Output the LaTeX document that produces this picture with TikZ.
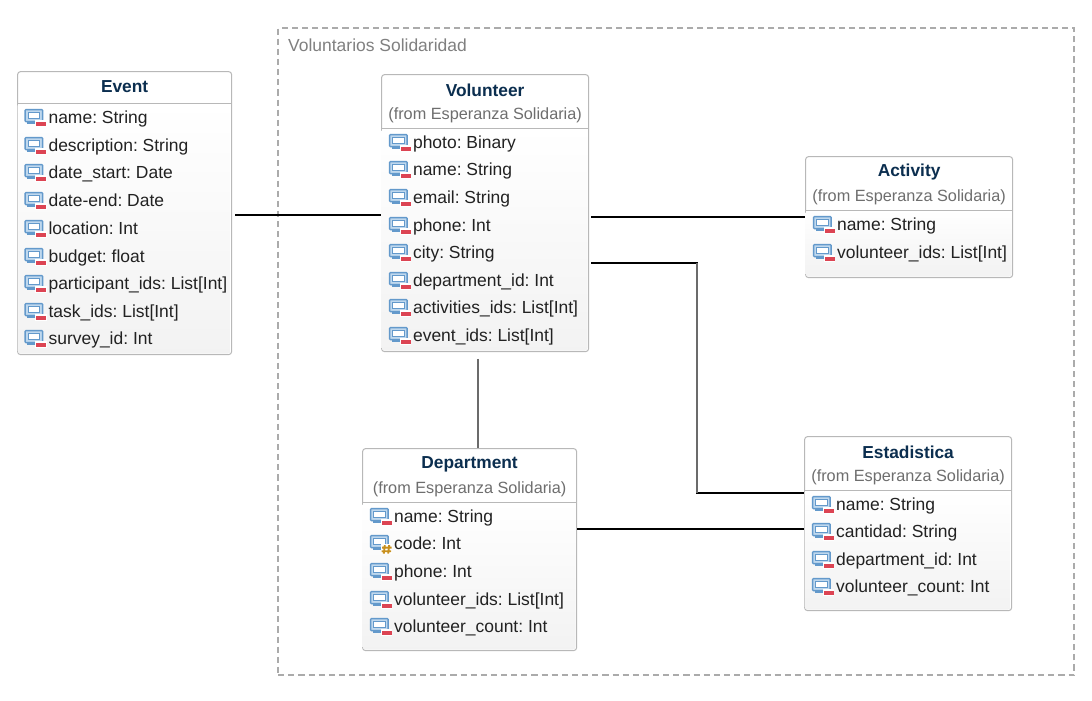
\documentclass[tikz,border=0pt]{standalone}
\usepackage{fontspec}
\setmainfont{Liberation Sans}
\frenchspacing
\definecolor{titlecol}{HTML}{0B2E4F}
\definecolor{subcol}{HTML}{6E6E6E}
\definecolor{txtcol}{HTML}{222222}
\definecolor{boxline}{HTML}{B8B8B8}
\definecolor{icoblue}{HTML}{6399CB}
\definecolor{icolight}{HTML}{BFD8EE}
\definecolor{icored}{HTML}{DC4453}
\definecolor{icogold}{HTML}{C8901E}
\newcounter{attrno}
\tikzset{
  x=0.75pt, y=-0.75pt,
  umlbox/.style={draw=boxline, line width=0.75pt, rounded corners=2.2pt, fill=white, inner sep=0pt, anchor=north west},
  divider/.style={draw=boxline, line width=0.75pt},
  classtitle/.style={font=\fontsize{13pt}{15pt}\selectfont\bfseries, text=titlecol, inner sep=0pt, anchor=center},
  classfrom/.style={font=\fontsize{12.2pt}{14pt}\selectfont, text=subcol, inner sep=0pt, anchor=center},
  attrtext/.style={font=\fontsize{13.1pt}{15pt}\selectfont, text=txtcol, inner sep=0pt, anchor=base west},
  conn/.style={draw=black, line width=1.2pt},
  connv/.style={draw=black!58, line width=1.8pt},
  frame/.style={draw=black!33, line width=1.5pt, dash pattern=on 4.6pt off 3pt},
  framelabel/.style={font=\fontsize{13.1pt}{15pt}\selectfont, text=black!50, inner sep=0pt, anchor=base west},
}
% class box: name, x0, y0, w, h, divider y offset
\newcommand{\classbox}[6]{%
  \node[umlbox, minimum width=#4*0.75pt, minimum height=#5*0.75pt] (#1) at (#2,#3) {};
  \shade[top color=white, bottom color=black!5, rounded corners=2pt]
     (#2+0.6,#3+#6) rectangle (#2+#4-0.6,#3+#5-0.6);
  \draw[divider] (#2,#3+#6) -- (#2+#4,#3+#6);
}
% icon at left x, centre y; #3 = 0 private, 1 protected
\newcommand{\attricon}[3]{%
  \begin{scope}[shift={(#1+0.5,#2)}]
    \fill[icolight] (0,-7) rectangle (17.5,5);
    \draw[icoblue, line width=1pt, rounded corners=0.6pt] (0,-7) rectangle (17.5,5);
    \fill[white] (3,-4.2) rectangle (14.5,1.5);
    \draw[icoblue, line width=0.7pt] (3,-4.2) rectangle (14.5,1.5);
    \draw[icoblue, line width=1pt] (2,6.5) -- (15,6.5);
    \ifnum#3=0
      \fill[white] (10,3.6) rectangle (21.5,10.4);
      \fill[icored] (11,5.2) rectangle (21,9.4);
    \else
      \fill[white] (10,1.5) rectangle (21.5,11.5);
      \draw[icogold, line width=1.4pt] (14.2,2.5) -- (13.2,11) (18.6,2.5) -- (17.6,11) (11.5,5) -- (21,5) (11,8.6) -- (20.5,8.6);
    \fi
  \end{scope}}
% attribute: icon x, centre y, text, icon kind
\newcommand{\attr}[4]{%
  \stepcounter{attrno}%
  \attricon{#1}{#2}{#4}
  \node[attrtext] (attr\theattrno) at (#1+23.7,#2+6.7) {#3};
}
\begin{document}
\begin{tikzpicture}
\useasboundingbox (0.4,0.4) rectangle (1092.4,700.4);
\fill[white] (0.4,0.4) rectangle (1092.4,700.4);
% frame
\node[frame, minimum width=796*0.75pt, minimum height=647*0.75pt, inner sep=0pt, anchor=north west] (container) at (277.5,27.5) {};
\node[framelabel] (containerlabel) at (288.3,52.2) {Voluntarios Solidaridad};

% Event
\classbox{event}{17.5}{71.5}{214}{283}{32}
\node[classtitle] (eventtitle) at (125,87.4) {Event};
\foreach \y/\t in {117/name: String,145/description: String,172/date\_start: Date,200/date-end: Date,228/location: Int,256/budget: float,283/participant\_ids: List[Int],311/task\_ids: List[Int],338/survey\_id: Int}{\attr{25}{\y}{\t}{0}}

% Volunteer
\classbox{volunteer}{381.5}{74.5}{207}{277}{54}
\node[classtitle] (voltitle) at (485.5,90.9) {Volunteer};
\node[classfrom] (volfrom) at (485.5,116) {(from Esperanza Solidaria)};
\foreach \y/\t in {142/photo: Binary,169/name: String,197/email: String,225/phone: Int,252/city: String,280/department\_id: Int,307/activities\_ids: List[Int],335/event\_ids: List[Int]}{\attr{389.5}{\y}{\t}{0}}

% Activity
\classbox{activity}{805.5}{156.5}{207}{121}{54}
\node[classtitle] (acttitle) at (909.5,172.9) {Activity};
\node[classfrom] (actfrom) at (909.5,198) {(from Esperanza Solidaria)};
\foreach \y/\t in {224/name: String,252/volunteer\_ids: List[Int]}{\attr{813.5}{\y}{\t}{0}}

% Department
\classbox{department}{362.5}{448.5}{214}{202}{54}
\node[classtitle] (deptitle) at (470,464.9) {Department};
\node[classfrom] (depfrom) at (470,490) {(from Esperanza Solidaria)};
\attr{370.5}{516}{name: String}{0}
\attr{370.5}{543}{code: Int}{1}
\foreach \y/\t in {571/phone: Int,599/volunteer\_ids: List[Int],626/volunteer\_count: Int}{\attr{370.5}{\y}{\t}{0}}

% Estadistica
\classbox{estadistica}{804.5}{436.5}{207}{174}{54}
\node[classtitle] (esttitle) at (908.5,452.9) {Estadistica};
\node[classfrom] (estfrom) at (908.5,478) {(from Esperanza Solidaria)};
\foreach \y/\t in {504/name: String,531/cantidad: String,559/department\_id: Int,586/volunteer\_count: Int}{\attr{812.5}{\y}{\t}{0}}

% connectors
\draw[conn, shorten <=2.25pt] (event.east |- 0,215.6) -- (volunteer.west |- 0,215.6);
\draw[conn, shorten <=1.5pt] (volunteer.east |- 0,217.6) -- (activity.west |- 0,217.6);
\draw[conn, shorten <=1.5pt] (volunteer.east |- 0,263.6) -- (697.5,263.6) -- (697.5,493.6) -- (estadistica.west |- 0,493.6);
\draw[connv] (697.5,263) -- (697.5,493);
\draw[connv, shorten <=5pt] (volunteer.south -| 478.2,0) -- (department.north -| 478.2,0);
\draw[conn] (department.east |- 0,529.6) -- (estadistica.west |- 0,529.6);
\end{tikzpicture}
\end{document}
